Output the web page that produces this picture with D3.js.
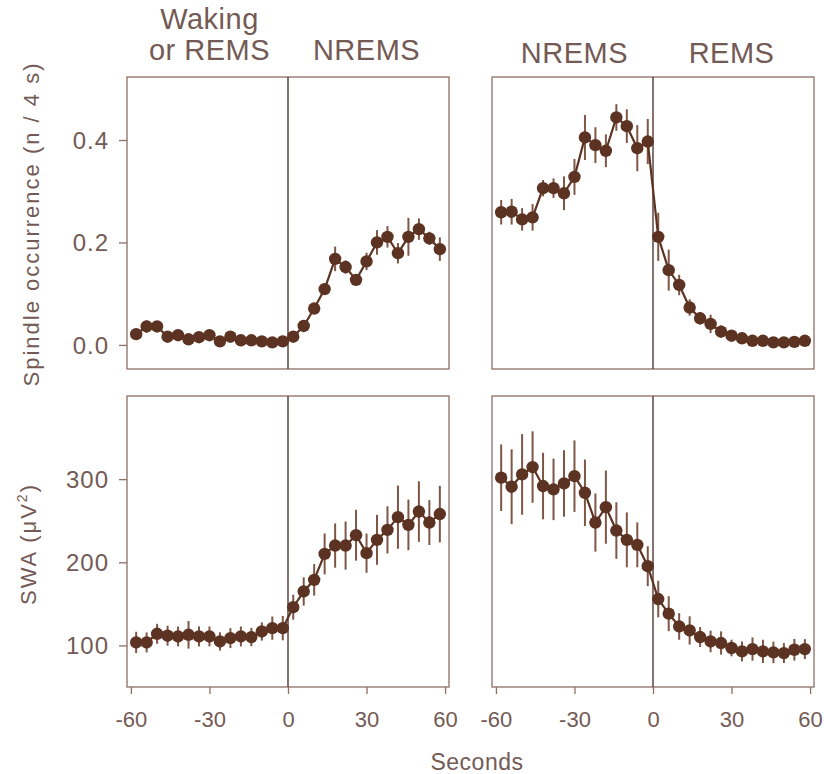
<!DOCTYPE html>
<html>
<head>
<meta charset="utf-8">
<script src="https://cdn.jsdelivr.net/npm/d3@7"></script>
<style>
  html, body { margin: 0; padding: 0; background: #fff; }
  text { font-family: "Liberation Sans", Arial, sans-serif; fill: #735a55; }
</style>
</head>
<body>
<svg id="chart" width="824" height="774"></svg>
<script>
// ---- data ----
const seconds = [-58,-54,-50,-46,-42,-38,-34,-30,-26,-22,-18,-14,-10,-6,-2,2,6,10,14,18,22,26,30,34,38,42,46,50,54,58];
const xTicks = [-60, -30, 0, 30, 60];
const spindleTicks = [0.0, 0.2, 0.4];
const swaTicks = [100, 200, 300];

// Waking/REMS -> NREMS transition
const spindleOnsetMean = [0.021,0.036,0.036,0.016,0.019,0.011,0.015,0.019,0.007,0.016,0.009,0.009,0.007,0.005,0.007,
                          0.016,0.037,0.071,0.109,0.168,0.152,0.127,0.163,0.200,0.211,0.179,0.211,0.226,0.208,0.187];
const spindleOnsetErr  = [0.006,0.012,0.008,0.006,0.006,0.005,0.006,0.006,0.005,0.005,0.005,0.005,0.005,0.005,0.005,
                          0.006,0.008,0.008,0.009,0.024,0.013,0.011,0.017,0.024,0.021,0.020,0.037,0.021,0.013,0.023];
// NREMS -> REMS transition
const spindleOffsetMean = [0.259,0.260,0.245,0.249,0.306,0.306,0.296,0.328,0.405,0.390,0.379,0.444,0.427,0.384,0.397,
                           0.211,0.146,0.117,0.073,0.052,0.041,0.026,0.018,0.013,0.008,0.008,0.005,0.005,0.006,0.008];
const spindleOffsetErr  = [0.024,0.025,0.022,0.026,0.016,0.019,0.033,0.035,0.044,0.035,0.032,0.026,0.033,0.045,0.044,
                           0.047,0.040,0.020,0.016,0.012,0.018,0.012,0.006,0.006,0.006,0.006,0.006,0.006,0.006,0.006];
const swaOnsetMean = [103.6,103.6,114.0,111.7,110.8,112.8,110.8,110.8,104.8,108.8,110.8,110.0,116.8,120.8,120.8,
                      146.0,164.9,178.9,210.1,220.1,220.1,232.6,211.0,227.0,239.0,254.3,245.0,261.0,247.8,258.0];
const swaOnsetErr  = [12.8,12.0,12.0,12.0,12.0,16.6,12.0,12.0,11.0,12.0,12.0,11.0,11.0,14.0,14.6,
                      15.0,17.0,19.0,24.6,26.6,29.0,30.6,23.6,30.0,28.4,38.0,30.4,36.4,27.0,34.0];
const swaOffsetMean = [301.7,290.9,305.7,314.5,291.7,287.7,294.8,303.6,283.6,247.8,266.3,238.2,227.0,221.0,195.3,
                       155.8,138.2,122.8,118.0,110.1,104.8,102.9,96.9,92.8,95.6,92.8,91.6,90.8,94.8,95.6];
const swaOffsetErr  = [40,45,48.5,43,40,37,40,43,40,35,44,34,33,27,24,
                       22,21,16,17,12,13,14,10,12,14,14,13,12,13,12];

const stateTitles = [["Waking", "or REMS"], ["NREMS"], ["NREMS"], ["REMS"]];

// ---- layout ----
const svg = d3.select("#chart");
const colLeft = [127, 492];
const colWidth = 322;
const rowTop = [77, 396];
const rowHeight = [292, 291];

const inkColor = "#5c3322";
const barColor = "#7d5646";
const frameColor = "#8d6f66";
const fontFam = '"Liberation Sans", Arial, sans-serif';

const xDomain = [-61.5, 61.5];
const yDomains = [[-0.047, 0.523], [50, 400]];

const panels = [
  { row: 0, col: 0, mean: spindleOnsetMean, err: spindleOnsetErr },
  { row: 0, col: 1, mean: spindleOffsetMean, err: spindleOffsetErr },
  { row: 1, col: 0, mean: swaOnsetMean, err: swaOnsetErr },
  { row: 1, col: 1, mean: swaOffsetMean, err: swaOffsetErr }
];

panels.forEach(p => {
  const x0 = colLeft[p.col], y0 = rowTop[p.row], h = rowHeight[p.row];
  const x = d3.scaleLinear().domain(xDomain).range([x0, x0 + colWidth]);
  const y = d3.scaleLinear().domain(yDomains[p.row]).range([y0 + h, y0]);
  const g = svg.append("g");

  // frame
  g.append("rect").attr("x", x0).attr("y", y0).attr("width", colWidth).attr("height", h)
    .attr("fill", "none").attr("stroke", frameColor).attr("stroke-width", 1.3);
  // zero line
  g.append("line").attr("x1", x(0)).attr("x2", x(0)).attr("y1", y0).attr("y2", y0 + h)
    .attr("stroke", "#5e4440").attr("stroke-width", 1.5);

  const pts = seconds.map((s, i) => ({ s, m: p.mean[i], e: p.err[i] }));

  // error bars
  g.selectAll("line.err").data(pts).enter().append("line").attr("class", "err")
    .attr("x1", d => x(d.s)).attr("x2", d => x(d.s))
    .attr("y1", d => y(d.m - d.e)).attr("y2", d => y(d.m + d.e))
    .attr("stroke", barColor).attr("stroke-width", 2);

  // line
  g.append("path").datum(pts)
    .attr("d", d3.line().x(d => x(d.s)).y(d => y(d.m)))
    .attr("fill", "none").attr("stroke", inkColor).attr("stroke-width", 2.2);

  // points
  g.selectAll("circle").data(pts).enter().append("circle")
    .attr("cx", d => x(d.s)).attr("cy", d => y(d.m)).attr("r", 6.2)
    .attr("fill", inkColor);

  // y axis (left column only)
  if (p.col === 0) {
    const ticks = p.row === 0 ? spindleTicks : swaTicks;
    const fmt = p.row === 0 ? d3.format(".1f") : d3.format("d");
    const ax = g.append("g").attr("transform", `translate(${x0},0)`)
      .call(d3.axisLeft(y).tickValues(ticks).tickFormat(fmt).tickSize(8).tickPadding(11));
    ax.select(".domain").remove();
    ax.selectAll(".tick line").attr("stroke", frameColor).attr("stroke-width", 1.3);
    ax.selectAll(".tick text").attr("font-size", 24).attr("letter-spacing", 1)
      .attr("fill", "#735a55").attr("dx", 1).attr("dy", "0.34em")
      .style("font-family", fontFam);
  }
  // x axis (bottom row only)
  if (p.row === 1) {
    const ax = g.append("g").attr("transform", `translate(0,${y0 + h})`)
      .call(d3.axisBottom(x).tickValues(xTicks).tickFormat(d => String(d)).tickSize(7).tickPadding(17));
    ax.select(".domain").remove();
    ax.selectAll(".tick line").attr("stroke", frameColor).attr("stroke-width", 1.3);
    ax.selectAll(".tick text").attr("font-size", 22).attr("fill", "#735a55")
      .style("font-family", fontFam);
  }
  // state titles (top row only)
  if (p.row === 0) {
    const titleLeft = stateTitles[p.col * 2];
    const titleRight = stateTitles[p.col * 2 + 1];
    const base = p.col === 0 ? 60 : 63;
    [[titleLeft, -30], [titleRight, 30]].forEach(([lines, sx]) => {
      lines.forEach((t, k) => {
        g.append("text").attr("x", x(sx)).attr("y", base - (lines.length - 1 - k) * 31)
          .attr("text-anchor", "middle").attr("font-size", 29).attr("letter-spacing", 0.5)
          .text(t);
      });
    });
  }
});

// axis titles
svg.append("text").attr("transform", "translate(39,224) rotate(-90)")
  .attr("text-anchor", "middle").attr("font-size", 22).attr("letter-spacing", 2)
  .text("Spindle occurrence (n / 4 s)");

const swa = svg.append("text").attr("transform", "translate(36,544) rotate(-90)")
  .attr("text-anchor", "middle").attr("font-size", 22).attr("letter-spacing", 2);
swa.append("tspan").text("SWA (\u03bcV");
swa.append("tspan").attr("font-size", 14).attr("dy", -9).text("2");
swa.append("tspan").attr("dy", 9).text(")");

svg.append("text").attr("x", 477).attr("y", 770).attr("text-anchor", "middle")
  .attr("font-size", 23).attr("letter-spacing", 0.5).text("Seconds");
</script>
</body>
</html>
